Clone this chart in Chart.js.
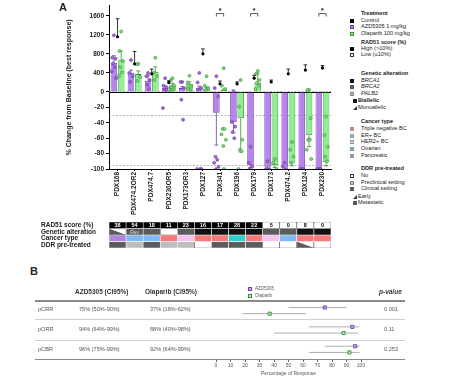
<!DOCTYPE html>
<html><head><meta charset="utf-8">
<script src="https://cdn.jsdelivr.net/npm/chart.js@4.4.0/dist/chart.umd.min.js"></script>
<style>
html,body{margin:0;padding:0;background:#fff;}
#wrap{position:relative;width:465px;height:381px;overflow:hidden;font-family:"Liberation Sans",Arial,sans-serif;color:#222;}
canvas{position:absolute;}
.t{position:absolute;white-space:nowrap;line-height:1;}
.sw{position:absolute;width:4px;height:4px;box-sizing:border-box;}
.hl{position:absolute;}
</style></head><body><div id="wrap">
<canvas id="cA" width="340" height="218" style="left:0;top:0"></canvas>
<canvas id="cH" width="340" height="34" style="left:0;top:218px"></canvas>
<canvas id="cB" width="180" height="85" style="left:200px;top:296px"></canvas>
<div id="legA"></div>
<div id="tabB"></div>
</div>
<script>
// ---------------- DATA ----------------
const categories = ['PDX168','PDX474.2OR2','PDX474.7','PDX230OR5','PDX173OR3','PDX127','PDX341','PDX196','PDX179','PDX173','PDX474.2','PDX124','PDX230'];
const azdMean = [610, 400, 230, 90, 80, 90, -27, -39, -95, -97, -98, -100, -100];
const olaMean = [665, 375, 420, 140, 170, 70, 40, -34, 190, -95, -93, -56, -91];
const azdErr  = [150, 60, 120, 40, 30, 30, 42, 14, 3, 2, 2, 0, 0];
const olaErr  = [195, 65, 110, 40, 40, 30, 20, 44, 190, 3, 3, 15, 5];
const controlMean = [1160, 590, 380, 195, null, 800, 170, 170, 290, 210, 380, 460, 505];
const controlErr  = [380, 260, 100, 40, null, 105, 60, 40, 60, 40, 100, 110, 50];
const azdPoints = [
  [1190, 720, 700, 600, 520, 430, 290],
  [670, 400, 330, 210],
  [400, 330, 250, 150, 60],
  [290, 130, 90, 50, 40, -21],
  [210, 210, 80, -10, -36],
  [400, 200, 80, 50, -100, -100, -100],
  [330, 80, -6, -84, -88, -92, -97, -100],
  [20, -39, -45, -52, -60],
  [-71, -92, -97, -100],
  [-90, -100, -100],
  [-92, -97, -100],
  [-100, -100, -100],
  [-100, -100, -100]
];
const olaPoints = [
  [1270, 860, 650, 520, 410, 340],
  [590, 580, 315, 230],
  [720, 400, 330, 250],
  [290, 240, 130, 90, 50, 30],
  [340, 200, 130, 80, 40],
  [330, 130, 80, 40],
  [500, 130, 60, -48, -48, -55, -62, -70, -100],
  [250, -19, -62, -75, -77, -100],
  [440, 380, 250, 190, 130, 60],
  [-87, -92, -100],
  [-65, -75, -84, -92],
  [40, 40, -34, -62, -62, -75, -87],
  [-32, -56, -71, -84, -90]
];
const yTickValues = [-100, -80, -60, -40, -20, 0, 400, 800, 1200, 1600];
const thresholdLines = [20, -30, -95];
const sigIndices = [6, 8, 12];
const sigLevel = 1650;

const rowNames = ['RAD51 score (%)', 'Genetic alteration', 'Cancer type', 'DDR pre-treated'];
const rad51 = [38, 54, 18, 11, 23, 16, 17, 28, 22, 5, 0, 8, 0];
const geneticGene = ['BRCA2','BRCA2','BRCA2','','BRCA2','BRCA1','BRCA1','BRCA1','BRCA1','BRCA2','BRCA2','BRCA1','BRCA1'];
const geneticMono = [true,false,false,false,false,false,false,false,false,false,false,false,false];
const geneticNote = ['','Rev','','','','','','','','','','',''];
const cancerType = ['Pancreatic','ER+ BC','ER+ BC','Triple negative BC','HER2+ BC','Triple negative BC','Triple negative BC','Ovarian','Triple negative BC','HER2+ BC','ER+ BC','Triple negative BC','Triple negative BC'];
const ddr = ['Clinical','Preclinical','Clinical','Preclinical','Preclinical','No','Clinical','Clinical','Clinical','No','No','Early','No'];

const forestRows = ['pCRR', 'pORR', 'pCBR'];
const azdEst = [75, 94, 96];
const azdLo  = [50, 64, 75];
const azdHi  = [90, 99, 99];
const olaEst = [37, 88, 92];
const olaLo  = [18, 40, 64];
const olaHi  = [62, 98, 99];
const pValues = ['0.001', '0.11', '0.253'];
const forestTicks = [0,10,20,30,40,50,60,70,80,90,100];

// ---------------- STYLE ----------------
const F = '"Liberation Sans", Arial, sans-serif';
const C = {
  azd:'#b584ec', azdB:'#6c3aa8', ola:'#92ee92', olaB:'#2f932f',
  azdPt:'#a46ad8', azdPtB:'#6f34a8', olaPt:'#84dc84', olaPtB:'#2c8a2c',
  BRCA1:'#111111', BRCA2:'#5c5c5c', PALB2:'#bdbdbd', none:'#ffffff',
  'Triple negative BC':'#f47a7a', 'ER+ BC':'#80b9f2', 'HER2+ BC':'#f2c4ef', 'Ovarian':'#2ecfcb', 'Pancreatic':'#b184e0',
  No:'#ffffff', Preclinical:'#bdbdbd', Clinical:'#5c5c5c', Early:'#ffffff', Metastatic:'#5c5c5c'
};
const POS = 0.0617;
function tf(v){ return v >= 0 ? v * POS : v; }
const JIT = [0, -0.1, 0.1, -0.05, 0.05, -0.13, 0.13, -0.02, 0.02];
const BAR_OFF = 0.2125;
function ptsData(arr, off){
  const out = [];
  arr.forEach((vals, i) => vals.forEach((v, j) => out.push({x: i + off + JIT[j % JIT.length], y: tf(v)})));
  return out;
}
const catIdx = categories.map((c, i) => i);

// ---------------- PANEL A CHART ----------------
const aPlugin = {
  id: 'aDecor',
  beforeDatasetsDraw(chart){
    const {ctx, chartArea, scales:{y}} = chart;
    ctx.save();
    ctx.strokeStyle = '#9a9a9a'; ctx.lineWidth = 0.7; ctx.setLineDash([2, 1.5]);
    thresholdLines.forEach(v => {
      const py = Math.round(y.getPixelForValue(tf(v))) + 0.5;
      ctx.beginPath(); ctx.moveTo(chartArea.left, py); ctx.lineTo(chartArea.right, py); ctx.stroke();
    });
    ctx.setLineDash([]);
    ctx.strokeStyle = '#000'; ctx.lineWidth = 1;
    const p0 = Math.round(y.getPixelForValue(0)) + 0.5;
    ctx.beginPath(); ctx.moveTo(chartArea.left, p0); ctx.lineTo(chartArea.right, p0); ctx.stroke();
    ctx.restore();
  },
  afterDatasetDraw(chart, args){
    const {ctx, scales:{y}} = chart;
    if (args.index === 0) {
      ctx.save(); ctx.lineWidth = 0.8;
      [[0, azdMean, azdErr, C.azdB], [1, olaMean, olaErr, C.olaB]].forEach(([di, m, e, col]) => {
        const meta = chart.getDatasetMeta(di);
        ctx.strokeStyle = col;
        meta.data.forEach((el, i) => {
          if (!e[i]) return;
          const end = m[i] >= 0 ? m[i] + e[i] : Math.max(-100, m[i] - e[i]);
          const py = y.getPixelForValue(tf(end));
          ctx.beginPath(); ctx.moveTo(el.x, el.y); ctx.lineTo(el.x, py);
          ctx.moveTo(el.x - 2, py); ctx.lineTo(el.x + 2, py); ctx.stroke();
        });
      });
      ctx.restore();
    }
    if (args.index === 4) {
      const meta = chart.getDatasetMeta(4);
      ctx.save(); ctx.strokeStyle = '#000'; ctx.lineWidth = 0.8;
      const idx = controlMean.map((v, i) => v == null ? -1 : i).filter(i => i >= 0);
      meta.data.forEach((el, k) => {
        const i = idx[k];
        const py = y.getPixelForValue(tf(controlMean[i] + controlErr[i]));
        ctx.beginPath(); ctx.moveTo(el.x, el.y); ctx.lineTo(el.x, py);
        ctx.moveTo(el.x - 1.8, py); ctx.lineTo(el.x + 1.8, py); ctx.stroke();
      });
      ctx.restore();
    }
  },
  afterDraw(chart){
    const {ctx, scales:{y}} = chart;
    const m0 = chart.getDatasetMeta(0), m1 = chart.getDatasetMeta(1);
    const py = Math.round(y.getPixelForValue(tf(sigLevel))) + 0.5;
    ctx.save(); ctx.strokeStyle = '#333'; ctx.lineWidth = 0.8; ctx.fillStyle = '#111';
    ctx.font = 'bold 7px ' + F; ctx.textAlign = 'center'; ctx.textBaseline = 'middle';
    sigIndices.forEach(i => {
      const x1 = m0.data[i].x, x2 = m1.data[i].x;
      ctx.beginPath(); ctx.moveTo(x1, py + 3); ctx.lineTo(x1, py); ctx.lineTo(x2, py); ctx.lineTo(x2, py + 3); ctx.stroke();
      ctx.fillText('*', (x1 + x2) / 2, py - 2.5);
    });
    ctx.restore();
  }
};

new Chart(document.getElementById('cA'), {
  type: 'bar',
  data: {
    datasets: [
      {label:'AZD5305 1 mg/kg', data: azdMean.map((v, i) => ({x: i - BAR_OFF, y: tf(v)})), backgroundColor: C.azd, borderColor: C.azdB, borderWidth: 0.8, order: 3, grouped: false, categoryPercentage: 1, barPercentage: 0.9},
      {label:'Olaparib 100 mg/kg', data: olaMean.map((v, i) => ({x: i + BAR_OFF, y: tf(v)})), backgroundColor: C.ola, borderColor: C.olaB, borderWidth: 0.8, order: 3, grouped: false, categoryPercentage: 1, barPercentage: 0.9},
      {type:'scatter', label:'AZD5305 animals', data: ptsData(azdPoints, -BAR_OFF), pointRadius: 1.5, backgroundColor: C.azdPt, borderColor: C.azdPtB, borderWidth: 0.6, order: 1},
      {type:'scatter', label:'Olaparib animals', data: ptsData(olaPoints, BAR_OFF), pointRadius: 1.5, backgroundColor: C.olaPt, borderColor: C.olaPtB, borderWidth: 0.6, order: 1},
      {type:'scatter', label:'Control', data: controlMean.map((v, i) => v == null ? null : {x: i, y: tf(v)}).filter(Boolean), pointRadius: 1.6, backgroundColor:'#000', borderColor:'#000', borderWidth: 0, order: 0}
    ]
  },
  options: {
    responsive: false, animation: false, devicePixelRatio: 1,
    layout: {padding: {left: 64, right: 9, top: 5, bottom: 0}},
    plugins: {legend: {display: false}, tooltip: {enabled: false}},
    scales: {
      x: {
        type: 'linear', min: -0.5, max: 12.5, offset: false,
        afterBuildTicks(s){ s.ticks = catIdx.map(v => ({value: v})); },
        grid: {display: true, drawOnChartArea: false, tickLength: 2, color: '#000', offset: false},
        border: {color: '#000', width: 1},
        ticks: {callback: (v, i) => categories[i], minRotation: 90, maxRotation: 90, autoSkip: false, padding: 1, color: '#222', font: {size: 6.5, weight: 'bold', family: F}},
        afterFit(s){ s.height = 49; }
      },
      y: {
        min: -100, max: 111.6,
        afterBuildTicks(s){ s.ticks = yTickValues.map(v => ({value: tf(v)})); },
        ticks: {callback: (v, i) => yTickValues[i], color: '#222', padding: 2, font: {size: 6.5, weight: 'bold', family: F}},
        grid: {drawOnChartArea: false, tickLength: 3, color: '#000'},
        border: {color: '#000', width: 1},
        title: {display: true, text: '% Change from Baseline (best response)', color: '#222', font: {size: 7, weight: 'bold', family: F}, padding: {top: 1, bottom: 0}},
        afterFit(s){ s.width = 45; }
      }
    }
  },
  plugins: [aPlugin]
});

// ---------------- HEATMAP ----------------
const rowColors = [
  rad51.map(v => v > 10 ? '#000000' : '#ffffff'),
  geneticGene.map((g, i) => geneticMono[i] ? '#ffffff' : (g ? C[g] : C.none)),
  cancerType.map(c => C[c]),
  ddr.map(d => C[d])
];
const rowBorders = rowColors.map(r => r.map(c => c === '#ffffff' ? '#444' : '#fff'));
const hPlugin = {
  id: 'hDecor',
  afterDatasetsDraw(chart){
    const ctx = chart.ctx;
    ctx.save();
    function box(el){ const p = el.getProps(['x','y','base','width'], true); return {l: p.x - p.width/2, r: p.x + p.width/2, t: Math.min(p.y, p.base), b: Math.max(p.y, p.base), cx: p.x}; }
    const tri = (bx, col) => { ctx.fillStyle = col; ctx.beginPath(); ctx.moveTo(bx.l + 0.3, bx.t + 0.3); ctx.lineTo(bx.l + 0.3, bx.b - 0.3); ctx.lineTo(bx.r - 0.3, bx.b - 0.3); ctx.closePath(); ctx.fill(); };
    chart.getDatasetMeta(1).data.forEach((el, i) => { if (geneticMono[i]) tri(box(el), C[geneticGene[i]]); });
    chart.getDatasetMeta(3).data.forEach((el, i) => { if (ddr[i] === 'Early') tri(box(el), C.Metastatic); });
    ctx.textAlign = 'center'; ctx.textBaseline = 'middle';
    ctx.font = 'bold 5.5px ' + F;
    chart.getDatasetMeta(0).data.forEach((el, i) => {
      const bx = box(el); ctx.fillStyle = rad51[i] > 10 ? '#fff' : '#000';
      ctx.fillText(String(rad51[i]), bx.cx, (bx.t + bx.b) / 2 + 0.5);
    });
    ctx.font = '5px ' + F;
    chart.getDatasetMeta(1).data.forEach((el, i) => {
      if (!geneticNote[i]) return;
      const bx = box(el); ctx.fillStyle = '#ddd';
      ctx.fillText(geneticNote[i], bx.cx, (bx.t + bx.b) / 2 + 0.5);
    });
    ctx.restore();
  }
};
new Chart(document.getElementById('cH'), {
  type: 'bar',
  data: {
    labels: categories,
    datasets: rowNames.map((r, ri) => ({
      label: r, data: categories.map(() => [ri, ri + 1]),
      backgroundColor: rowColors[ri], borderColor: rowBorders[ri], borderWidth: 0.6, borderSkipped: false,
      barPercentage: 1, categoryPercentage: 1, grouped: false
    }))
  },
  options: {
    responsive: false, animation: false, devicePixelRatio: 1,
    layout: {padding: {left: 41, right: 9, top: 1, bottom: 1}},
    plugins: {legend: {display: false}, tooltip: {enabled: false}},
    scales: {
      x: {display: false},
      y: {
        reverse: true, min: 0, max: 4,
        afterBuildTicks(s){ s.ticks = [0.5, 1.5, 2.5, 3.5].map(v => ({value: v})); },
        ticks: {callback: (v, i) => rowNames[i], autoSkip: false, crossAlign: 'far', padding: 0, color: '#222', font: {size: 6.5, weight: 'bold', family: F}},
        grid: {display: false}, border: {display: false},
        afterFit(s){ s.width = 68; }
      }
    }
  },
  plugins: [hPlugin]
});

// ---------------- PANEL B FOREST ----------------
const ROW_OFF = 0.16;
const ciSets = [];
forestRows.forEach((r, i) => {
  ciSets.push({type: 'line', data: [{x: azdLo[i], y: i + 0.5 - ROW_OFF}, {x: azdHi[i], y: i + 0.5 - ROW_OFF}], borderColor: '#9a9a9a', borderWidth: 0.8, pointRadius: 0, order: 2});
  ciSets.push({type: 'line', data: [{x: olaLo[i], y: i + 0.5 + ROW_OFF}, {x: olaHi[i], y: i + 0.5 + ROW_OFF}], borderColor: '#9a9a9a', borderWidth: 0.8, pointRadius: 0, order: 2});
});
new Chart(document.getElementById('cB'), {
  type: 'scatter',
  data: {
    datasets: [
      ...ciSets,
      {label: 'AZD5305', data: azdEst.map((v, i) => ({x: v, y: i + 0.5 - ROW_OFF})), pointStyle: 'rect', pointRadius: 2.2, backgroundColor: '#c9aaf0', borderColor: '#6a3fa6', borderWidth: 0.9, order: 0},
      {label: 'Olaparib', data: olaEst.map((v, i) => ({x: v, y: i + 0.5 + ROW_OFF})), pointStyle: 'rect', pointRadius: 2.2, backgroundColor: '#c4f2c4', borderColor: '#2f8a2f', borderWidth: 0.9, order: 0}
    ]
  },
  options: {
    responsive: false, animation: false, devicePixelRatio: 1,
    layout: {padding: {left: 16, right: 19, top: 4, bottom: 0}},
    plugins: {legend: {display: false}, tooltip: {enabled: false}},
    scales: {
      x: {
        type: 'linear', min: 0, max: 100,
        afterBuildTicks(s){ s.ticks = forestTicks.map(v => ({value: v})); },
        ticks: {color: '#555', padding: 1, font: {size: 5, family: F}},
        grid: {drawOnChartArea: false, tickLength: 3, color: '#666', offset: false},
        border: {display: false},
        title: {display: true, text: 'Percentage of Response', color: '#555', font: {size: 5, family: F}, padding: {top: 0, bottom: 4}},
        afterFit(s){ s.height = 22; }
      },
      y: {type: 'linear', min: 0, max: 3, reverse: true, display: false}
    }
  }
});

// ---------------- HTML TEXT: legend A & table B ----------------
const legendA = [
  {y: 14, title: 'Treatment'},
  {y: 20.5, label: 'Control', sw: 'background:#000'},
  {y: 27, label: 'AZD5305 1 mg/kg', sw: 'background:' + C.azd + ';border:0.8px solid ' + C.azdB},
  {y: 33.5, label: 'Olaparib 100 mg/kg', sw: 'background:' + C.ola + ';border:0.8px solid ' + C.olaB},
  {y: 42.5, title: 'RAD51 score (%)'},
  {y: 48.7, label: 'High (&gt;10%)', sw: 'background:#000'},
  {y: 55, label: 'Low (&le;10%)', sw: 'background:#fff;border:0.8px solid #333'},
  {y: 74, title: 'Genetic alteration'},
  {y: 80.5, label: '<i>BRCA1</i>', sw: 'background:' + C.BRCA1},
  {y: 87, label: '<i>BRCA2</i>', sw: 'background:' + C.BRCA2},
  {y: 94, label: '<i>PALB2</i>', sw: 'background:' + C.PALB2 + ';border:0.6px solid #888'},
  {y: 101, label: '<b>Biallelic</b>', sw: 'background:#111', ind: true},
  {y: 108, label: 'Monoallelic', tri: true, ind: true},
  {y: 122, title: 'Cancer type'},
  {y: 129, label: 'Triple negative BC', sw: 'background:' + C['Triple negative BC'] + ';border:0.6px solid #999'},
  {y: 135.6, label: 'ER+ BC', sw: 'background:' + C['ER+ BC'] + ';border:0.6px solid #999'},
  {y: 142.2, label: 'HER2+ BC', sw: 'background:' + C['HER2+ BC'] + ';border:0.6px solid #999'},
  {y: 148.9, label: 'Ovarian', sw: 'background:' + C['Ovarian'] + ';border:0.6px solid #999'},
  {y: 155.6, label: 'Pancreatic', sw: 'background:' + C['Pancreatic'] + ';border:0.6px solid #999'},
  {y: 169, title: 'DDR pre-treated'},
  {y: 175.8, label: 'No', sw: 'background:#fff;border:0.8px solid #333'},
  {y: 182.5, label: 'Preclinical setting', sw: 'background:' + C.Preclinical + ';border:0.6px solid #888'},
  {y: 189.2, label: 'Clinical setting', sw: 'background:' + C.Clinical},
  {y: 196.5, label: 'Early', tri: true, ind: true},
  {y: 203.3, label: 'Metastatic', sw: 'background:' + C.Metastatic, ind: true}
];
let h = '';
legendA.forEach(it => {
  if (it.title) {
    h += `<div class="t" style="left:361px;top:${it.y - 3}px;font-size:5.6px;font-weight:bold;">${it.title}</div>`;
  } else {
    const sx = it.ind ? 353 : 349.5, tx = it.ind ? 358 : 361;
    if (it.tri) {
      h += `<div class="sw" style="left:${sx}px;top:${it.y - 2}px;width:0;height:0;border-left:4px solid transparent;border-bottom:4px solid #333;"></div>`;
    } else {
      h += `<div class="sw" style="left:${sx}px;top:${it.y - 2}px;${it.sw}"></div>`;
    }
    h += `<div class="t" style="left:${tx}px;top:${it.y - 3}px;font-size:5.6px;">${it.label}</div>`;
  }
});
h += `<div class="t" style="left:59px;top:2px;font-size:11px;font-weight:bold;">A</div>`;
document.getElementById('legA').innerHTML = h;

let b = '';
b += `<div class="t" style="left:30px;top:266px;font-size:11px;font-weight:bold;">B</div>`;
b += `<div class="t" style="left:75px;top:288.5px;font-size:6.5px;font-weight:bold;color:#333">AZD5305 (CI95%)</div>`;
b += `<div class="t" style="left:145px;top:288.5px;font-size:6.5px;font-weight:bold;color:#333">Olaparib (CI95%)</div>`;
b += `<div class="t" style="left:379px;top:288.5px;font-size:6.5px;font-weight:bold;font-style:italic;color:#333">p-value</div>`;
b += `<div class="sw" style="left:248px;top:287px;background:#c9aaf0;border:0.8px solid #6a3fa6"></div><div class="t" style="left:255px;top:287px;font-size:4.5px;color:#555">AZD5305</div>`;
b += `<div class="sw" style="left:248px;top:293.5px;background:#c4f2c4;border:0.8px solid #2f8a2f"></div><div class="t" style="left:255px;top:293.5px;font-size:4.5px;color:#555">Olaparib</div>`;
b += `<div class="hl" style="left:35px;top:300px;width:370px;height:2px;background:#8a8a8a"></div>`;
b += `<div class="hl" style="left:35px;top:319px;width:370px;height:0.6px;background:#cfcfcf"></div>`;
b += `<div class="hl" style="left:35px;top:340px;width:370px;height:0.6px;background:#cfcfcf"></div>`;
b += `<div class="hl" style="left:35px;top:358.5px;width:370px;height:1.5px;background:#8a8a8a"></div>`;
const rowY = [310, 330, 349.5];
const fmt = (e, l, hi) => `${e}% (${l}%-${hi}%)`;
forestRows.forEach((r, i) => {
  const y = rowY[i] - 3;
  b += `<div class="t" style="left:38px;top:${y}px;font-size:5.6px;color:#555">${r}</div>`;
  b += `<div class="t" style="left:79px;top:${y}px;font-size:5.6px;color:#555">${fmt(azdEst[i], azdLo[i], azdHi[i])}</div>`;
  b += `<div class="t" style="left:150px;top:${y}px;font-size:5.6px;color:#555">${fmt(olaEst[i], olaLo[i], olaHi[i])}</div>`;
  b += `<div class="t" style="left:384px;top:${y}px;font-size:5.6px;color:#555">${pValues[i]}</div>`;
});
document.getElementById('tabB').innerHTML = b;
</script>
</body></html>
